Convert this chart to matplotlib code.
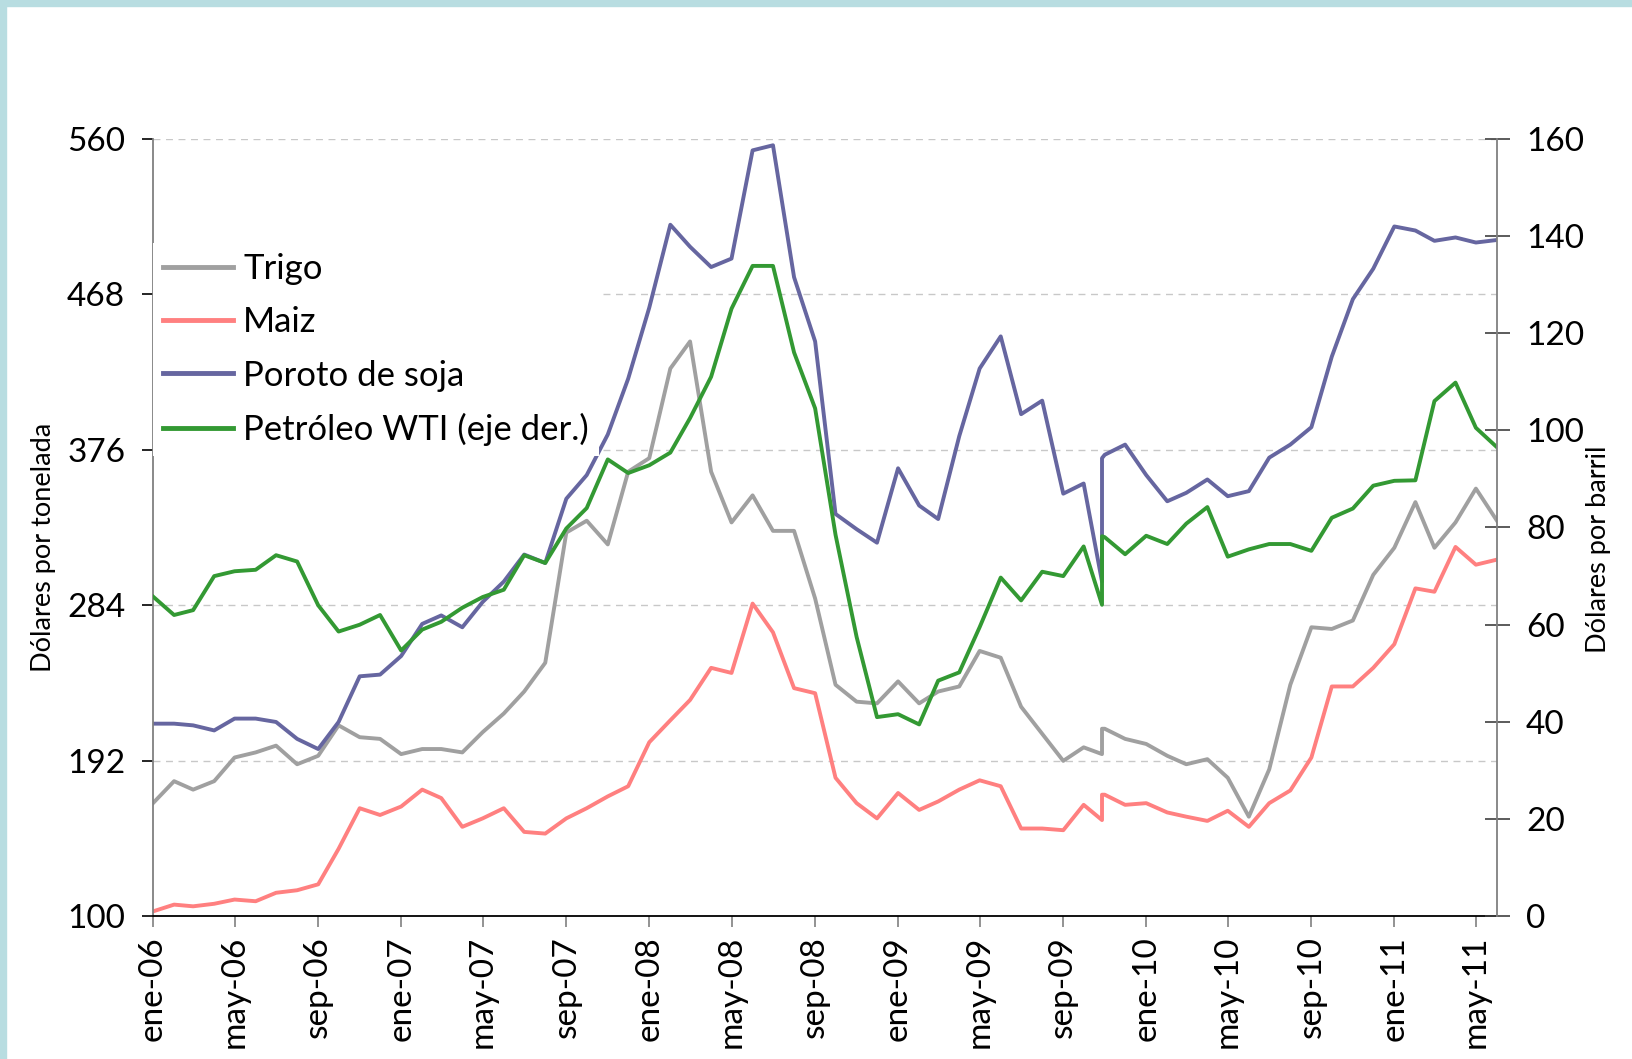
import matplotlib
matplotlib.use('Agg')
import matplotlib.pyplot as plt
from matplotlib.patches import Rectangle
import pandas as pd

plt.rcParams['font.family'] = ['Lato', 'DejaVu Sans']

# fechas mensuales ene-06 a jun-11; el 28-oct-09 se repite (salto en las series)
fechas = list(pd.date_range('2006-01-01', '2011-06-01', freq='MS'))
fechas = fechas[:46] + [pd.Timestamp('2009-10-28')] * 2 + fechas[46:]

# dolares por tonelada
trigo = [167, 180, 175, 180, 194, 197, 201, 190, 195, 213,
         206, 205, 196, 199, 199, 197, 209, 220, 233, 250,
         327, 334, 320, 363, 371, 424, 440, 363, 333, 349,
         328, 328, 288, 237, 227, 226, 239, 226, 233, 236,
         257, 253, 224, 208, 192, 200,
         196, 211,
         211, 205, 202, 195, 190, 193, 182, 159, 187, 237,
         271, 270, 275, 302, 318, 345, 318, 333, 353, 334]

maiz = [103, 107, 106, 107.5, 110, 109, 114, 115.5, 119, 140,
        164, 160, 165, 175, 170, 153, 158, 164, 150, 149,
        158, 164, 171, 177, 203, 216, 228, 247, 244, 285,
        268, 235, 232, 182, 167, 158, 173, 163, 168, 175,
        180.5, 177, 152, 152, 151, 166,
        157, 172,
        172, 166, 167, 161.5, 159, 156.5, 162.5, 153, 167, 174.5,
        194, 236, 236, 247, 261, 294, 292, 318.5, 308, 311]

soja = [214, 214, 213, 210, 217, 217, 215, 205, 199, 215,
        242, 243, 254, 273, 278, 271, 286, 298, 314, 309,
        347, 361, 385, 418, 460, 509, 496, 484, 489, 553,
        556, 478, 440, 338, 329, 321, 365, 343, 335, 384,
        424, 443, 397, 405, 350, 356,
        298, 371,
        373, 379, 361, 345.5, 350.5, 358.4, 348.5, 351.5, 371.3, 379,
        389.3, 431, 465, 483, 508, 505.6, 499.5, 501.5, 498.5, 500]

# dolares por barril (eje derecho)
wti = [65.8, 62, 63, 70, 71, 71.3, 74.3, 73, 64, 58.6,
       60, 62, 54.7, 59, 60.6, 63.5, 65.7, 67.2, 74.3, 72.7,
       79.8, 84, 94, 91.2, 92.8, 95.4, 102.5, 111, 125, 133.8,
       133.8, 116, 104.5, 78.5, 57.5, 41, 41.6, 39.5, 48.5, 50.2,
       59.5, 69.7, 65, 70.9, 70, 76.1,
       64.1, 78.2,
       78, 74.5, 78.3, 76.6, 80.8, 84.2, 74, 75.5, 76.6, 76.6,
       75.2, 82, 83.9, 88.6, 89.6, 89.7, 106, 109.8, 100.5, 96.5]

ticks_x = ['2006-01-01', '2006-05-01', '2006-09-01', '2007-01-01', '2007-05-01',
           '2007-09-01', '2008-01-01', '2008-05-01', '2008-09-01', '2009-01-01',
           '2009-05-01', '2009-09-01', '2010-01-01', '2010-05-01', '2010-09-01',
           '2011-01-01', '2011-05-01']
etiquetas_x = ['ene-06', 'may-06', 'sep-06', 'ene-07', 'may-07', 'sep-07',
               'ene-08', 'may-08', 'sep-08', 'ene-09', 'may-09', 'sep-09',
               'ene-10', 'may-10', 'sep-10', 'ene-11', 'may-11']
ticks_izq = [100, 192, 284, 376, 468, 560]
ticks_der = [0, 20, 40, 60, 80, 100, 120, 140, 160]

fig = plt.figure(figsize=(16.33, 10.59), dpi=100)
fig.patches.append(Rectangle((0, 0), 6 / 1633, 1, transform=fig.transFigure,
                             color='#b8dde1', zorder=0))
fig.patches.append(Rectangle((0, 1 - 6 / 1059), 1, 6 / 1059, transform=fig.transFigure,
                             color='#b8dde1', zorder=0))

ax = fig.add_axes([0.0937, 0.1346, 0.823, 0.7346])
ax2 = ax.twinx()

l1, = ax.plot(fechas, trigo, color='#a0a0a0', lw=2.8, solid_joinstyle='round', label='Trigo')
l2, = ax.plot(fechas, maiz, color='#ff8080', lw=2.8, solid_joinstyle='round', label='Maiz')
l3, = ax.plot(fechas, soja, color='#6666a0', lw=2.8, solid_joinstyle='round', label='Poroto de soja')
l4, = ax2.plot(fechas, wti, color='#339933', lw=2.8, solid_joinstyle='round',
               label='Petróleo WTI (eje der.)')

ax.set_xlim(pd.Timestamp('2006-01-01'), pd.Timestamp('2011-06-01'))
ax.set_ylim(100, 560)
ax2.set_ylim(0, 160)

ax.set_yticks(ticks_izq)
ax2.set_yticks(ticks_der)
ax.set_xticks(pd.to_datetime(ticks_x))
ax.set_xticklabels(etiquetas_x, rotation=90)

ax.yaxis.grid(True, linestyle=(0, (5, 4)), color='#c8c8c8', lw=1)
ax.set_axisbelow(True)

for s in ['top', 'right']:
    ax.spines[s].set_visible(False)
for s in ['top', 'left', 'bottom']:
    ax2.spines[s].set_visible(False)
ax.spines['left'].set_color('#808080')
ax.spines['left'].set_linewidth(1.3)
ax.spines['bottom'].set_color('black')
ax.spines['bottom'].set_linewidth(1.3)
ax2.spines['right'].set_color('#808080')
ax2.spines['right'].set_linewidth(1.3)

ax.tick_params(axis='y', direction='out', length=8, width=1.2, pad=12, labelsize=24,
               color='black')
ax.tick_params(axis='x', direction='out', length=8, width=1.2, pad=6, labelsize=24,
               color='#808080')
ax2.tick_params(axis='y', direction='inout', length=18, width=1.2, pad=12, labelsize=24,
                color='#404040')

fig.text(0.0268, 0.4835, 'Dólares por tonelada', rotation=90, ha='center', va='center',
         fontsize=19.5)
fig.text(0.979, 0.481, 'Dólares por barril', rotation=90, ha='center', va='center',
         fontsize=19.5)

leg = ax2.legend(handles=[l1, l2, l3, l4], loc='upper left', bbox_to_anchor=(0.0, 0.866),
                 borderaxespad=0, borderpad=0.3, handlelength=2.0, handletextpad=0.3,
                 labelspacing=0.61, fontsize=25, frameon=True, fancybox=False)
leg.get_frame().set_facecolor('white')
leg.get_frame().set_edgecolor('none')
leg.get_frame().set_alpha(1)
for h in leg.get_lines():
    h.set_linewidth(3.5)

fig.savefig('out.png', dpi=100)
